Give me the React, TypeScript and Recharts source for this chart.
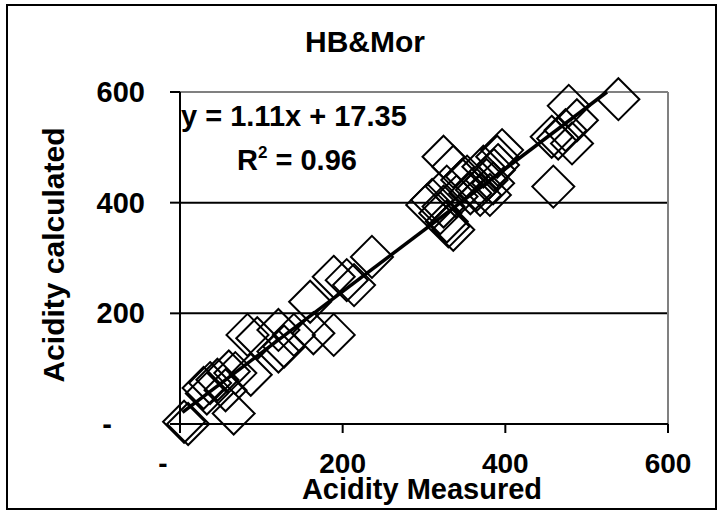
import React from 'react';
import { ScatterChart, Scatter, XAxis, YAxis, CartesianGrid, ReferenceLine, Customized } from 'recharts';

// Acidity measured (x) vs calculated (y)
const measured = [
  5, 10, 66, 33, 29, 37, 46, 56, 60, 87, 68, 121, 95, 83, 121, 128, 140, 164, 189, 160, 189, 205, 214, 236,
  304, 310, 320, 324, 328, 330, 336, 324, 336, 328, 340, 347, 353, 357, 365, 369, 377, 381, 385, 386, 373, 390, 391, 396,
  459, 457, 465, 482, 474, 488, 478, 539,
];
const calculated = [
  4, 0, 19, 55, 65, 74, 80, 61, 95, 89, 92, 131, 155, 161, 170, 140, 161, 164, 161, 221, 266, 260, 251, 302,
  396, 405, 381, 393, 366, 357, 351, 483, 465, 429, 411, 441, 447, 417, 423, 414, 441, 414, 435, 459, 465, 483, 468, 495,
  429, 519, 516, 507, 531, 549, 575, 587,
];

// Linear trendline end points
const trendX = [3, 525];
const trendY = [21, 600];

const xTicks = [0, 200, 400, 600];
const yTicks = [0, 200, 400, 600];
const gridValues = [200, 400];

const titleText = 'HB&Mor';
const xTitle = 'Acidity Measured';
const yTitle = 'Acidity calculated';
const equationText = 'y = 1.11x + 17.35';
const r2Value = '0.96';

const points = measured.map((m, i) => ({ x: m, y: calculated[i] }));
const trend = trendX.map((t, i) => ({ x: t, y: trendY[i] }));

const FONT = '"Liberation Sans", Arial, sans-serif';

const Diamond = (props: any) => {
  const { cx, cy } = props;
  if (cx == null || cy == null) return <g />;
  const r = 21;
  return (
    <polygon
      points={`${cx},${cy - r} ${cx + r},${cy} ${cx},${cy + r} ${cx - r},${cy}`}
      fill="none"
      stroke="#000"
      strokeWidth={2}
    />
  );
};

const NoShape = () => <g />;

const XTick = (props: any) => {
  const { x, y, payload } = props;
  const v = payload.value;
  const label = v === 0 ? '-' : String(v);
  return (
    <text
      x={v === 0 ? x - 17 : x}
      y={y + 38}
      textAnchor="middle"
      fontFamily={FONT}
      fontWeight="bold"
      fontSize={28}
      fill="#000"
    >
      {label}
    </text>
  );
};

const YTick = (props: any) => {
  const { x, y, payload } = props;
  const v = payload.value;
  const label = v === 0 ? '-' : String(v);
  return (
    <text
      x={v === 0 ? x - 56 : x - 23}
      y={y + 10}
      textAnchor="end"
      fontFamily={FONT}
      fontWeight="bold"
      fontSize={29}
      fill="#000"
    >
      {label}
    </text>
  );
};

const Texts = () => (
  <g fontFamily={FONT} fontWeight="bold" fill="#000">
    <text x={365} y={52} textAnchor="middle" fontSize={30}>{titleText}</text>
    <text x={181} y={126} fontSize={29}>{equationText}</text>
    <text x={237} y={170} fontSize={29}>
      R<tspan fontSize={17} dy={-12}>2</tspan>
      <tspan dy={12}>{' = ' + r2Value}</tspan>
    </text>
    <text x={422} y={499} textAnchor="middle" fontSize={29}>{xTitle}</text>
    <text x={64} y={255} textAnchor="middle" fontSize={30} transform="rotate(-90, 64, 255)">{yTitle}</text>
  </g>
);

export default function App() {
  return (
    <div style={{ position: 'absolute', left: 0, top: 0, width: 721, height: 512, background: '#fff' }}>
      <div
        style={{
          position: 'absolute',
          left: 6,
          top: 4,
          width: 711,
          height: 506,
          border: '2px solid #000',
          boxSizing: 'border-box',
        }}
      />
      <div style={{ position: 'absolute', left: 0, top: 0 }}>
        <ScatterChart width={721} height={512} margin={{ top: 92, right: 53, bottom: 0, left: 0 }}>
          <CartesianGrid
            horizontal
            vertical={false}
            horizontalValues={gridValues}
            stroke="#000"
            strokeWidth={2}
          />
          <ReferenceLine y={600} stroke="#808080" strokeWidth={2} />
          <ReferenceLine x={600} stroke="#808080" strokeWidth={2} />
          <XAxis
            type="number"
            dataKey="x"
            domain={[0, 600]}
            ticks={xTicks}
            interval={0}
            height={88}
            tickSize={9}
            tickMargin={2}
            axisLine={{ stroke: '#000', strokeWidth: 2 }}
            tickLine={{ stroke: '#000', strokeWidth: 2 }}
            tick={<XTick />}
          />
          <YAxis
            type="number"
            dataKey="y"
            domain={[0, 600]}
            ticks={yTicks}
            interval={0}
            width={180}
            tickSize={10}
            tickMargin={2}
            axisLine={{ stroke: '#000', strokeWidth: 2 }}
            tickLine={{ stroke: '#000', strokeWidth: 2 }}
            tick={<YTick />}
          />
          <Scatter data={points} shape={<Diamond />} isAnimationActive={false} />
          <Scatter
            data={trend}
            shape={<NoShape />}
            line={{ stroke: '#000', strokeWidth: 3.5 }}
            isAnimationActive={false}
          />
          <Customized component={<Texts />} />
        </ScatterChart>
      </div>
    </div>
  );
}
